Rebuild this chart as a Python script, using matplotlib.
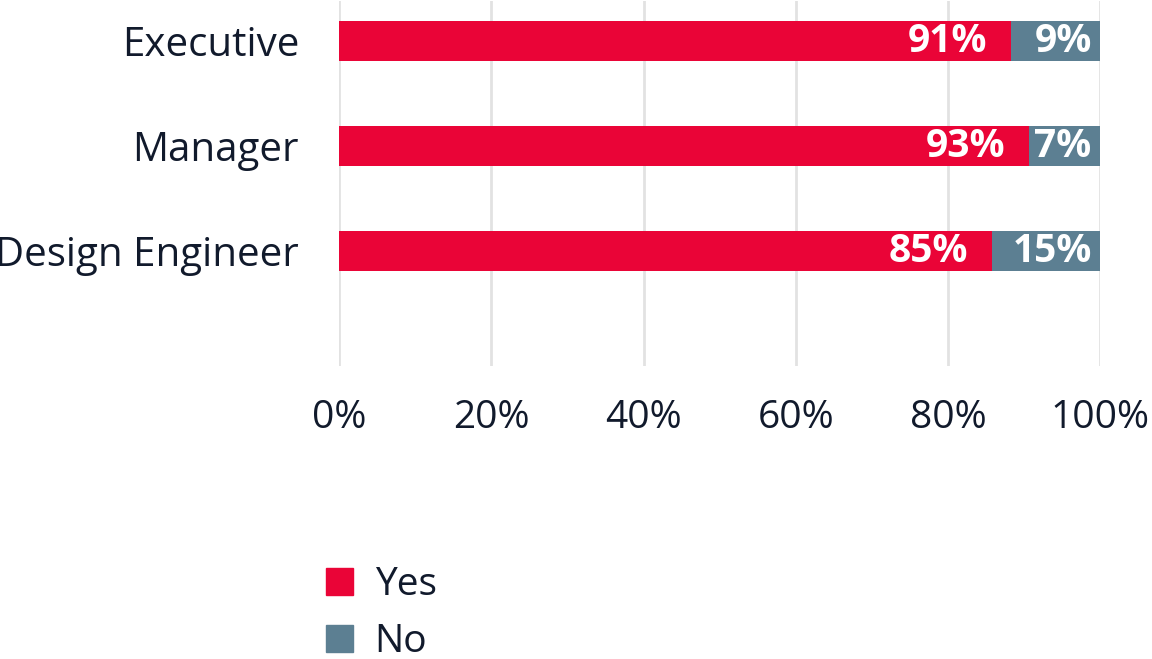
import matplotlib
matplotlib.use("Agg")
import matplotlib.pyplot as plt
from matplotlib.patches import Patch

# --- dane ---
categories = ['Executive', 'Manager', 'Design Engineer']
yes_share = [88.3, 90.7, 85.8]
no_share = [11.7, 9.3, 14.2]
yes_labels = ['91%', '93%', '85%']
no_labels = ['9%', '7%', '15%']
x_ticks = [0, 20, 40, 60, 80, 100]
x_tick_labels = ['0%', '20%', '40%', '60%', '80%', '100%']

RED = '#EA0437'
BLUE = '#5C7F92'
TEXT = '#111A2C'
GRID = '#E2E2E2'

plt.rcParams['font.family'] = ['Open Sans', 'DejaVu Sans']

W, H = 1152, 659
fig = plt.figure(figsize=(W / 100, H / 100), dpi=100)
ax = fig.add_axes([339.3 / W, 1 - 366 / H, (1100 - 339.3) / W, 365 / H])

pos = list(range(len(categories)))
bar_h = 0.381
ax.barh(pos, yes_share, height=bar_h, color=RED, zorder=2)
ax.barh(pos, no_share, left=yes_share, height=bar_h, color=BLUE, zorder=2)

# etykiety w słupkach
for i in pos:
    ax.annotate(yes_labels[i], (yes_share[i], i), xytext=(-17, 0), textcoords='offset points',
                ha='right', va='center', color='white', fontsize=28, fontweight='bold')
    ax.annotate(no_labels[i], (100, i), xytext=(-6, 0), textcoords='offset points',
                ha='right', va='center', color='white', fontsize=28, fontweight='bold')

ax.set_xlim(0, 100)
ax.set_ylim(3.095, -0.381)
ax.set_xticks(x_ticks)
ax.set_xticklabels(x_tick_labels)
ax.set_yticks(pos)
ax.set_yticklabels(categories)
ax.tick_params(axis='x', length=0, pad=24, labelsize=28, labelcolor=TEXT)
ax.tick_params(axis='y', length=0, pad=29, labelsize=29, labelcolor=TEXT)
ax.grid(axis='x', color=GRID, linewidth=2, zorder=0)
ax.set_axisbelow(True)
for s in ax.spines.values():
    s.set_visible(False)

handles = [Patch(color=RED, label='Yes'), Patch(color=BLUE, label='No')]
fig.legend(handles=handles, loc='upper left', bbox_to_anchor=(325.7 / W, 1 - 566 / H),
           frameon=False, fontsize=28, handlelength=0.7, handleheight=0.7,
           handletextpad=0.56, labelspacing=0.5, borderpad=0, borderaxespad=0,
           labelcolor=TEXT)

fig.savefig('out.png', dpi=100)
